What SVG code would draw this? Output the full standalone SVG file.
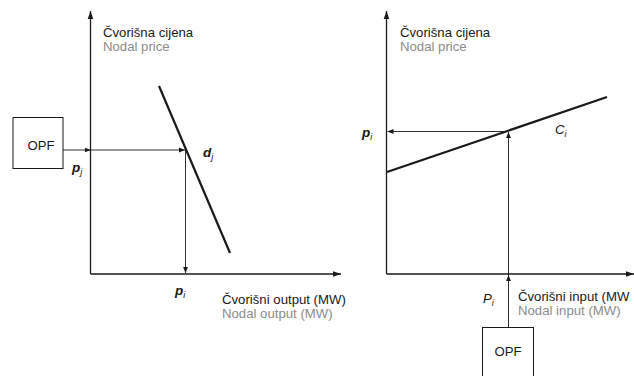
<svg xmlns="http://www.w3.org/2000/svg" width="634" height="376" viewBox="0 0 634 376">
<style>
.t{font-family:"Liberation Sans",Arial,sans-serif;font-size:13.2px;fill:#1a1a1a}
.g{fill:#8c8c8c}
.v{font-family:"Liberation Sans",Arial,sans-serif;font-size:13.5px;fill:#1a1a1a;font-style:italic;font-weight:bold}
.s{font-size:9px;font-weight:normal;font-style:italic}
.ax{stroke:#1a1a1a;stroke-width:1.3;fill:none}
.ar{stroke:#1a1a1a;stroke-width:0.9;fill:none}
.cv{stroke:#1a1a1a;stroke-width:2.2;fill:none}
.box{stroke:#1a1a1a;stroke-width:1;fill:#fff}
</style>
<defs>
<marker id="ah" viewBox="0 0 10 10" refX="10" refY="5" markerWidth="6" markerHeight="6" markerUnits="userSpaceOnUse" orient="auto">
<path d="M0,1 L10,5 L0,9 Z" fill="#1a1a1a"/>
</marker>
<marker id="axh" viewBox="0 0 10 10" refX="10" refY="5" markerWidth="8" markerHeight="8" markerUnits="userSpaceOnUse" orient="auto">
<path d="M0,1.5 L10,5 L0,8.5 Z" fill="#1a1a1a"/>
</marker>
</defs>

<g id="left-chart">
<g id="left-axes">
<path class="ax" d="M90.5,274 V11" marker-end="url(#axh)"/>
<path class="ax" d="M90.5,274 H341" marker-end="url(#axh)"/>
</g>
<g id="left-axis-labels">
<text class="t" x="103" y="37">Čvorišna cijena</text>
<text class="t g" x="103" y="51">Nodal price</text>
<text class="t" x="222" y="304">Čvorišni output (MW)</text>
<text class="t g" x="222" y="318">Nodal output (MW)</text>
</g>
<g id="demand-curve">
<line class="cv" x1="159" y1="86" x2="230" y2="253"/>
<text class="v" x="203" y="157">d<tspan class="s" dy="3">j</tspan></text>
</g>
<g id="opf-left">
<rect class="box" x="13" y="117.5" width="50" height="51"/>
<text class="t" x="41" y="150" text-anchor="middle">OPF</text>
</g>
</g>

<g id="right-chart">
<g id="right-axes">
<path class="ax" d="M386.5,274 V11" marker-end="url(#axh)"/>
<path class="ax" d="M386.5,274 H634" marker-end="url(#axh)"/>
</g>
<g id="right-axis-labels">
<text class="t" x="400" y="37">Čvorišna cijena</text>
<text class="t g" x="400" y="51">Nodal price</text>
<text class="t" x="518" y="301">Čvorišni input (MW</text>
<text class="t g" x="518" y="315">Nodal input (MW)</text>
</g>
<g id="supply-curve">
<line class="cv" x1="387" y1="172" x2="607" y2="97"/>
<text class="t" x="555" y="134" font-style="italic">C<tspan class="s" dy="3">i</tspan></text>
</g>
<g id="opf-right">
<rect class="box" x="482.5" y="327.5" width="51" height="60"/>
<text class="t" x="508" y="356" text-anchor="middle">OPF</text>
</g>
</g>

<g id="connectors">
<path class="ar" d="M63,150 H90.5" marker-end="url(#ah)"/>
<path class="ar" d="M90.5,150 H185" marker-end="url(#ah)"/>
<path class="ar" d="M185.5,150 V273" marker-end="url(#ah)"/>
<path class="ar" d="M508.5,327 V275" marker-end="url(#ah)"/>
<path class="ar" d="M508.5,275 V132" marker-end="url(#ah)"/>
<path class="ar" d="M507,131.5 H387.5" marker-end="url(#ah)"/>
</g>

<g id="labels">
<text class="v" x="72" y="172">p<tspan class="s" dy="3">j</tspan></text>
<text class="v" x="175" y="295">p<tspan class="s" dy="3">i</tspan></text>
<text class="v" x="362" y="137">p<tspan class="s" dy="3">i</tspan></text>
<text class="t" x="483" y="303" font-style="italic">P<tspan class="s" dy="3">i</tspan></text>
</g>
</svg>
